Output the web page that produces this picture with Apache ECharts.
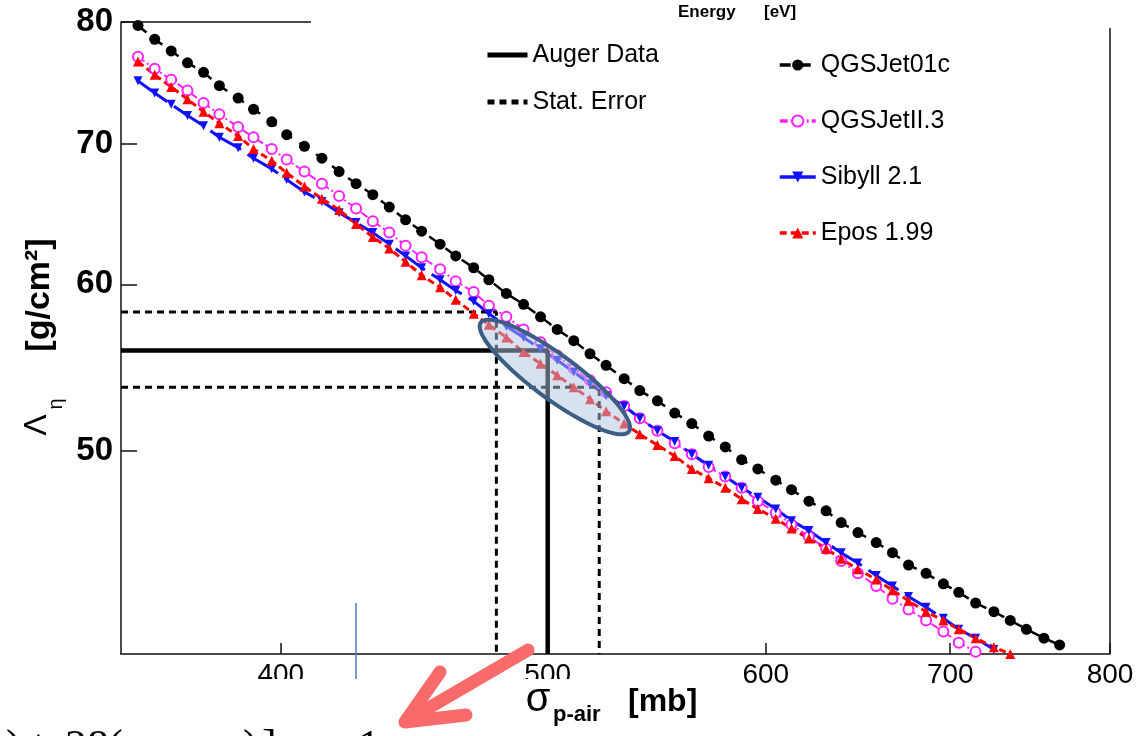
<!DOCTYPE html>
<html>
<head>
<meta charset="utf-8">
<script src="https://cdn.jsdelivr.net/npm/echarts@6/dist/echarts.min.js"></script>
<style>
  html, body { margin: 0; padding: 0; background: #fff; }
  #chart { width: 1144px; height: 736px; }
</style>
</head>
<body>
<div id="chart"></div>
<script>
// sigma p-air grid [mb] shared by the model curves
const sigma = [355, 360, 365, 370, 375, 380, 386, 391, 397, 402, 408, 414, 420, 426, 432, 438, 444, 450, 457, 463,
  470, 476, 483, 490, 497, 504, 511, 518, 525, 533, 540, 548, 556, 564, 572, 580, 588, 596, 605, 613,
  622, 631, 639, 648, 658, 667, 676, 686, 696, 705, 715, 726, 736, 746, 757, 767];

// Lambda_eta [g/cm2] per model
const qgsjet01c = [79.7, 78.5, 77.5, 76.5, 75.7, 74.6, 73.6, 72.7, 71.7, 70.7, 69.8, 68.9, 67.9, 67.0, 66.2, 65.3, 64.4, 63.6, 62.7, 61.9,
  61.1, 60.3, 59.4, 58.7, 57.9, 57.1, 56.4, 55.6, 54.9, 54.1, 53.4, 52.8, 52.1, 51.5, 50.8, 50.2, 49.5, 49.0, 48.4, 47.9,
  47.3, 46.8, 46.2, 45.7, 45.2, 44.7, 44.1, 43.7, 43.2, 42.8, 42.3, 41.9, 41.5, 41.1, 40.7, 40.4];
const qgsjetII3 = [77.0, 76.0, 75.1, 74.2, 73.2, 72.3, 71.3, 70.5, 69.6, 68.8, 67.9, 67.0, 66.1, 65.2, 64.3, 63.5, 62.6, 61.8, 61.0, 60.2,
  59.5, 58.6, 57.9, 57.1, 56.3, 55.5, 54.7, 54.0, 53.3, 52.5, 51.8, 51.1, 50.4, 49.8, 49.1, 48.6, 48.0, 47.3, 46.7, 46.1,
  45.5, 44.9, 44.3, 43.7, 43.1, 42.5, 42.0, 41.5, 41.0, 40.5, 40.1];
const sibyll21 = [75.0, 74.0, 73.1, 72.2, 71.4, 70.5, 69.7, 68.9, 68.1, 67.3, 66.4, 65.7, 64.9, 64.2, 63.5, 62.7, 61.9, 61.1, 60.3, 59.6,
  58.9, 58.1, 57.3, 56.6, 55.9, 55.2, 54.5, 53.8, 53.1, 52.5, 51.8, 51.1, 50.5, 49.8, 49.2, 48.6, 48.0, 47.5, 46.9, 46.3,
  45.8, 45.2, 44.7, 44.2, 43.6, 43.1, 42.6, 42.1, 41.6, 41.1, 40.7, 40.2];
const epos199 = [76.6, 75.5, 74.5, 73.5, 72.5, 71.6, 70.6, 69.6, 68.7, 67.8, 66.8, 65.9, 65.1, 64.1, 63.2, 62.4, 61.5, 60.6, 59.8, 59.0,
  58.1, 57.4, 56.6, 55.7, 55.0, 54.3, 53.6, 52.9, 52.2, 51.5, 50.9, 50.3, 49.7, 49.0, 48.5, 48.0, 47.4, 46.9, 46.4, 45.9,
  45.4, 44.9, 44.4, 43.9, 43.4, 42.9, 42.4, 41.9, 41.5, 41.1, 40.7, 40.3, 40.0];

// Auger measurement and statistical error band
const augerSigma = 500;
const augerLambda = 55.8;
const statSigma = [479, 522];
const statLambda = [58.2, 53.6];
const ellipseCenter = [503, 54.2];

const xTicks = [400, 500, 600, 700, 800];
const yTicks = [50, 60, 70, 80];
const xMin = 350, xMax = 800, yMin = 40, yMax = 80;

const chart = echarts.init(document.getElementById('chart'));
const G = { left: 121, top: 22, right: 1110, bottom: 654 };
const font = "'Liberation Sans', Arial, sans-serif";
const pts = ys => ys.map((v, i) => [sigma[i], v]);

chart.setOption({
  animation: false,
  backgroundColor: '#fff',
  grid: { left: G.left, top: G.top, width: G.right - G.left, height: G.bottom - G.top, outerBoundsMode: 'none' },
  xAxis: {
    type: 'log', logBase: 10, min: xMin, max: xMax,
    axisLine: { lineStyle: { color: '#111', width: 1.5 } },
    axisTick: { inside: true, length: 11, customValues: xTicks, lineStyle: { color: '#111', width: 1.5 } },
    axisLabel: { customValues: xTicks, fontSize: 28, color: '#000', margin: 7, fontFamily: font },
    splitLine: { show: false },
    minorTick: { show: false }
  },
  yAxis: {
    type: 'log', logBase: 10, min: yMin, max: yMax,
    axisLine: { lineStyle: { color: '#111', width: 1.5 } },
    axisTick: { inside: true, length: 16, customValues: yTicks, lineStyle: { color: '#111', width: 1.5 } },
    axisLabel: { customValues: yTicks, fontSize: 33, fontWeight: 'bold', color: '#000', margin: 8, fontFamily: font },
    splitLine: { show: false }
  },
  legend: [
    {
      data: ['Auger Data', 'Stat. Error'],
      orient: 'vertical', left: 480, top: 36,
      itemWidth: 40, itemHeight: 14, itemGap: 19,
      selectedMode: false,
      itemStyle: { opacity: 0 },
      lineStyle: { width: 5 },
      textStyle: { fontSize: 25, color: '#000', fontFamily: font, lineHeight: 28 }
    },
    {
      data: ['QGSJet01c', 'QGSJetII.3', 'Sibyll 2.1', 'Epos 1.99'],
      orient: 'vertical', left: 773, top: 46,
      itemWidth: 36, itemHeight: 14, itemGap: 28,
      selectedMode: false,
      lineStyle: { width: 3.5 },
      textStyle: { fontSize: 25, color: '#000', fontFamily: font, lineHeight: 28 }
    }
  ],
  series: [
    {
      name: 'QGSJet01c', type: 'line', data: pts(qgsjet01c),
      symbol: 'circle', symbolSize: 11,
      itemStyle: { color: '#000' },
      lineStyle: { color: '#000', width: 2.5, type: [11, 9] }
    },
    {
      name: 'QGSJetII.3', type: 'line', data: pts(qgsjetII3),
      symbol: 'emptyCircle', symbolSize: 10,
      itemStyle: { color: '#ff22ff', borderWidth: 1.5 },
      lineStyle: { color: '#ff22ff', width: 2, type: [8, 3, 2, 3] }
    },
    {
      name: 'Sibyll 2.1', type: 'line', data: pts(sibyll21),
      symbol: 'triangle', symbolRotate: 180, symbolSize: 9,
      itemStyle: { color: '#1010ff' },
      lineStyle: { color: '#1010ff', width: 3, type: [36, 8] }
    },
    {
      name: 'Epos 1.99', type: 'line', data: pts(epos199),
      symbol: 'triangle', symbolSize: 10,
      itemStyle: { color: '#ff0000' },
      lineStyle: { color: '#ff0000', width: 3, type: [7, 4] }
    },
    {
      name: 'Auger Data', type: 'line', symbol: 'none',
      data: [[xMin, augerLambda], [augerSigma, augerLambda], [augerSigma, yMin]],
      lineStyle: { color: '#000', width: 4.5 }, itemStyle: { color: '#000' }
    },
    {
      name: 'Stat. Error', type: 'line', symbol: 'none',
      data: [[xMin, statLambda[0]], [statSigma[0], statLambda[0]], [statSigma[0], yMin]],
      lineStyle: { color: '#000', width: 3, type: [7, 5] }, itemStyle: { color: '#000' }
    },
    {
      name: 'Stat. Error', type: 'line', symbol: 'none',
      data: [[xMin, statLambda[1]], [statSigma[1], statLambda[1]], [statSigma[1], yMin]],
      lineStyle: { color: '#000', width: 3, type: [7, 5] }, itemStyle: { color: '#000' }
    }
  ]
});

// highlight ellipse around the Auger point
const c = chart.convertToPixel({ gridIndex: 0 }, ellipseCenter);
const a = 92, b = 22, th = 36.4 * Math.PI / 180;
const ell = [];
for (let k = 0; k < 90; k++) {
  const t = k / 90 * Math.PI * 2;
  ell.push([
    c[0] + a * Math.cos(t) * Math.cos(th) - b * Math.sin(t) * Math.sin(th),
    c[1] + a * Math.cos(t) * Math.sin(th) + b * Math.sin(t) * Math.cos(th)
  ]);
}

const serif = "'Liberation Serif', 'Times New Roman', serif";
const arrowColor = '#f96b6b';
const fy = 726; // top of the cut-off formula line

chart.setOption({
  graphic: [
    // partial frame
    { type: 'line', z: 5, shape: { x1: G.left, y1: G.top, x2: 311, y2: G.top }, style: { stroke: '#111', lineWidth: 1.5 } },
    { type: 'line', z: 5, shape: { x1: G.right, y1: 28, x2: G.right, y2: G.bottom }, style: { stroke: '#111', lineWidth: 1.5 } },
    { type: 'polygon', z: 10, shape: { points: ell }, style: { fill: 'rgba(176,196,224,0.5)', stroke: '#3c5d84', lineWidth: 4 } },
    { type: 'text', z: 10, style: { text: 'Energy', x: 678, y: 12, fontSize: 17, fontWeight: 'bold', fontFamily: font, fill: '#000', verticalAlign: 'middle' } },
    { type: 'text', z: 10, style: { text: '[eV]', x: 764, y: 12, fontSize: 17, fontWeight: 'bold', fontFamily: font, fill: '#000', verticalAlign: 'middle' } },
    // y axis title
    { type: 'text', z: 10, x: 40, y: 295, rotation: Math.PI / 2, style: { text: '[g/cm²]', fontSize: 34, fontWeight: 'bold', fontFamily: font, fill: '#000', align: 'center', verticalAlign: 'middle' } },
    { type: 'text', z: 10, x: 37, y: 425, rotation: Math.PI / 2, style: { text: 'Λ', fontSize: 32, fontFamily: font, fill: '#000', align: 'center', verticalAlign: 'middle' } },
    { type: 'text', z: 10, x: 56, y: 404, rotation: Math.PI / 2, style: { text: 'η', fontSize: 20, fontFamily: font, fill: '#000', align: 'center', verticalAlign: 'middle' } },
    // slide overlay below the plot
    { type: 'line', z: 40, shape: { x1: 356, y1: 603, x2: 356, y2: 679 }, style: { stroke: '#4a7ebb', lineWidth: 1.5 } },
    { type: 'rect', z: 50, shape: { x: 0, y: 679, width: 612, height: 60 }, style: { fill: '#fff' } },
    // x axis title
    { type: 'text', z: 51, style: { text: 'σ', x: 538, y: 700, fontSize: 40, fontFamily: font, fill: '#000', align: 'center', verticalAlign: 'middle' } },
    { type: 'text', z: 51, style: { text: 'p-air', x: 553, y: 715, fontSize: 22, fontWeight: 'bold', fontFamily: font, fill: '#000', verticalAlign: 'middle' } },
    { type: 'text', z: 51, style: { text: '[mb]', x: 628, y: 702, fontSize: 32, fontWeight: 'bold', fontFamily: font, fill: '#000', verticalAlign: 'middle' } },
    // cut-off formula text
    { type: 'text', z: 51, style: { text: ')', x: 6, y: fy, fontSize: 44, fontFamily: serif, fill: '#000', verticalAlign: 'top' } },
    { type: 'text', z: 51, style: { text: '+', x: 26, y: fy, fontSize: 44, fontFamily: serif, fill: '#000', verticalAlign: 'top' } },
    { type: 'text', z: 51, style: { text: '28', x: 65, y: fy, fontSize: 44, fontFamily: serif, fill: '#000', verticalAlign: 'top' } },
    { type: 'text', z: 51, style: { text: '(', x: 108, y: fy, fontSize: 44, fontFamily: serif, fill: '#000', verticalAlign: 'top' } },
    { type: 'text', z: 51, style: { text: ')', x: 243, y: fy, fontSize: 44, fontFamily: serif, fill: '#000', verticalAlign: 'top' } },
    { type: 'text', z: 51, style: { text: ']', x: 262, y: fy, fontSize: 44, fontFamily: serif, fill: '#000', verticalAlign: 'top' } },
    { type: 'text', z: 51, style: { text: '1', x: 358, y: fy, fontSize: 44, fontFamily: serif, fill: '#000', verticalAlign: 'top' } },
    // red arrow
    { type: 'line', z: 60, shape: { x1: 528, y1: 650, x2: 408, y2: 720 }, style: { stroke: arrowColor, lineWidth: 13, lineCap: 'round' } },
    { type: 'polyline', z: 60, shape: { points: [[440, 672], [405, 722], [466, 715]] }, style: { stroke: arrowColor, lineWidth: 13, lineCap: 'round', lineJoin: 'round', fill: null } }
  ]
});
</script>
</body>
</html>
